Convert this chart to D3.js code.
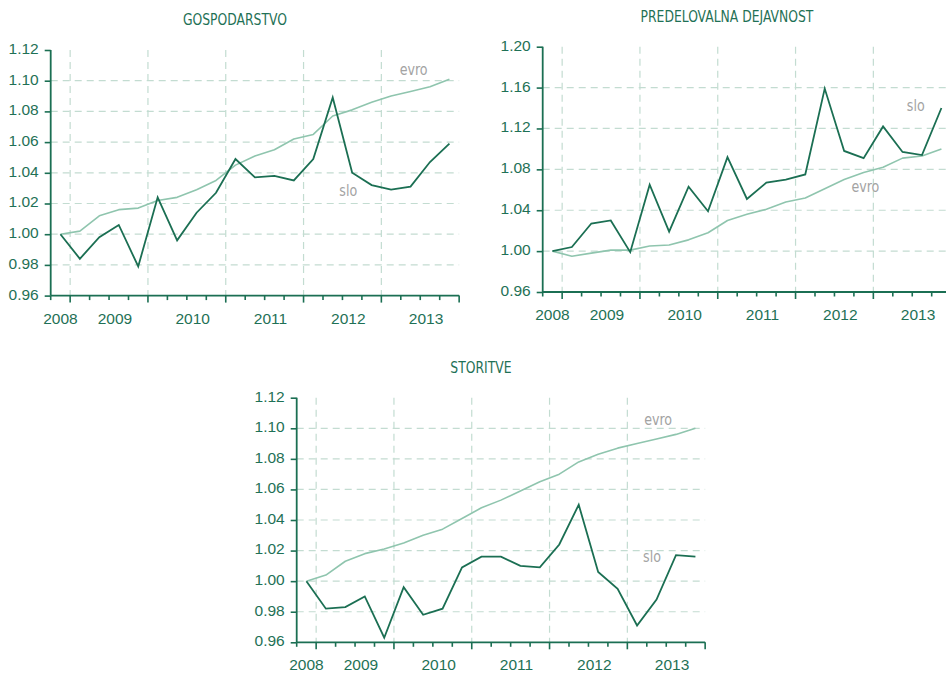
<!DOCTYPE html>
<html>
<head>
<meta charset="utf-8">
<script src="https://cdn.jsdelivr.net/npm/d3@7"></script>
<style>
  html, body { margin: 0; padding: 0; background: #ffffff; }
  svg { display: block; }
</style>
</head>
<body>
<svg id="chart" width="946" height="673"></svg>
<script>
// ---------- DATA ----------
const quarters = [
  "2008 Q4",
  "2009 Q1","2009 Q2","2009 Q3","2009 Q4",
  "2010 Q1","2010 Q2","2010 Q3","2010 Q4",
  "2011 Q1","2011 Q2","2011 Q3","2011 Q4",
  "2012 Q1","2012 Q2","2012 Q3","2012 Q4",
  "2013 Q1","2013 Q2","2013 Q3","2013 Q4"
];
const years = ["2008","2009","2010","2011","2012","2013"];

const gospodarstvoSlo  = [1.000,0.984,0.998,1.006,0.979,1.024,0.996,1.014,1.027,1.049,1.037,1.038,1.035,1.049,1.089,1.040,1.032,1.029,1.031,1.047,1.059];
const gospodarstvoEvro = [1.000,1.002,1.012,1.016,1.017,1.022,1.024,1.029,1.035,1.045,1.051,1.055,1.062,1.065,1.077,1.081,1.086,1.090,1.093,1.096,1.101];

const predelovalnaSlo  = [1.000,1.004,1.027,1.030,0.999,1.065,1.019,1.063,1.039,1.092,1.051,1.067,1.070,1.075,1.159,1.098,1.091,1.122,1.097,1.094,1.140];
const predelovalnaEvro = [1.000,0.995,0.998,1.001,1.001,1.005,1.006,1.011,1.018,1.030,1.036,1.041,1.048,1.052,1.061,1.070,1.077,1.082,1.091,1.093,1.100];

const storitveSlo  = [1.000,0.982,0.983,0.990,0.963,0.996,0.978,0.982,1.009,1.016,1.016,1.010,1.009,1.024,1.050,1.006,0.995,0.971,0.988,1.017,1.016];
const storitveEvro = [1.000,1.004,1.013,1.018,1.021,1.025,1.030,1.034,1.041,1.048,1.053,1.059,1.065,1.070,1.078,1.083,1.087,1.090,1.093,1.096,1.100];

const ticksSmall = [0.96,0.98,1.00,1.02,1.04,1.06,1.08,1.10,1.12];
const ticksLarge = [0.96,1.00,1.04,1.08,1.12,1.16,1.20];

// ---------- STYLE ----------
const C_DARK = "#1b6f53";
const C_TEXT = "#1f7156";
const C_EVRO = "#8fc5ae";
const C_GRID = "#c3dcd1";
const C_LABEL = "#a3a3a3";
const NUM_FONT = "'Liberation Sans', Arial, sans-serif";
const COND_FONT = "'Liberation Sans Narrow', 'DejaVu Sans Condensed', sans-serif";

const svg = d3.select("#chart");

const bandW = 19.45;
const plotW = quarters.length * bandW;

const panels = [
  { title: "GOSPODARSTVO", left: 50.7, top: 50, height: 245.6,
    slo: gospodarstvoSlo, evro: gospodarstvoEvro, ticks: ticksSmall,
    fmt: d3.format(".2f"),
    evroLab: { i: 18.16, v: 1.1034 }, sloLab: { i: 14.8, v: 1.0252 } },
  { title: "PREDELOVALNA DEJAVNOST", left: 542.7, top: 46.7, height: 245.3,
    slo: predelovalnaSlo, evro: predelovalnaEvro, ticks: ticksLarge,
    fmt: d3.format(".2f"),
    evroLab: { i: 16.09, v: 1.0577 }, sloLab: { i: 18.68, v: 1.137 } },
  { title: "STORITVE", left: 296.7, top: 397.7, height: 244.6,
    slo: storitveSlo, evro: storitveEvro, ticks: ticksSmall,
    fmt: d3.format(".2f"),
    evroLab: { i: 18.08, v: 1.1022 }, sloLab: { i: 17.77, v: 1.0128 } }
];

panels.forEach(p => {
  const g = svg.append("g").attr("transform", `translate(${p.left},${p.top})`);
  const x = d3.scaleBand().domain(quarters).range([0, plotW]).paddingInner(0).paddingOuter(0);
  const bw = x.bandwidth();
  const xc = d => x(d) + bw / 2;
  const xi = i => i * bw + bw / 2; // position for a fractional category index
  const y = d3.scaleLinear().domain([p.ticks[0], p.ticks[p.ticks.length - 1]]).range([p.height, 0]);

  // title (condensed look)
  svg.append("text")
    .attr("transform", `translate(${p.left + plotW / 2 - 20},${p.top - 25}) scale(0.86,1)`)
    .attr("text-anchor", "middle")
    .attr("font-family", COND_FONT)
    .attr("font-size", 16)
    .attr("fill", C_TEXT)
    .text(p.title);

  // horizontal grid (skip bottom and top)
  g.append("g").selectAll("line")
    .data(p.ticks.slice(1, -1))
    .join("line")
    .attr("x1", 0).attr("x2", plotW)
    .attr("y1", d => y(d)).attr("y2", d => y(d))
    .attr("stroke", C_GRID).attr("stroke-width", 1.2)
    .attr("stroke-dasharray", "7,5");

  // year boundaries (first quarter of each year from 2009)
  const boundaries = quarters.map((q, i) => ({ q, i })).filter(d => d.q.endsWith("Q1"));
  g.append("g").selectAll("line")
    .data(boundaries)
    .join("line")
    .attr("x1", d => x(d.q)).attr("x2", d => x(d.q))
    .attr("y1", 0).attr("y2", p.height)
    .attr("stroke", C_GRID).attr("stroke-width", 1.2)
    .attr("stroke-dasharray", "7,5");

  // lines
  const line = d3.line().x((d, i) => xc(quarters[i])).y(d => y(d));
  g.append("path").datum(p.evro)
    .attr("d", line).attr("fill", "none")
    .attr("stroke", C_EVRO).attr("stroke-width", 1.6)
    .attr("stroke-linejoin", "round");
  g.append("path").datum(p.slo)
    .attr("d", line).attr("fill", "none")
    .attr("stroke", C_DARK).attr("stroke-width", 1.8)
    .attr("stroke-linejoin", "miter");

  // y axis
  const yAxis = d3.axisLeft(y).tickValues(p.ticks).tickFormat(p.fmt).tickSize(6).tickPadding(6);
  const ya = g.append("g").call(yAxis);
  ya.select(".domain").attr("stroke", C_DARK).attr("stroke-width", 1.8).attr("d", `M0,0V${p.height}`);
  ya.selectAll(".tick line").attr("stroke", C_DARK).attr("stroke-width", 1.6);
  ya.selectAll(".tick text")
    .attr("font-family", NUM_FONT).attr("font-size", 15.5)
    .attr("fill", C_TEXT).attr("dy", "0.22em");

  // x axis line
  g.append("line")
    .attr("x1", 0).attr("x2", plotW)
    .attr("y1", p.height).attr("y2", p.height)
    .attr("stroke", C_DARK).attr("stroke-width", 1.8);

  // x ticks at each band boundary
  const edges = quarters.map(q => x(q)).concat([plotW]);
  g.append("g").selectAll("line")
    .data(edges)
    .join("line")
    .attr("x1", d => d).attr("x2", d => d)
    .attr("y1", p.height)
    .attr("y2", (d, i) => {
      const major = (i < quarters.length && quarters[i].endsWith("Q1")) || i === quarters.length;
      return p.height + (major ? 7 : 4.5);
    })
    .attr("stroke", C_DARK).attr("stroke-width", 1.6);

  // year labels
  g.append("g").selectAll("text")
    .data(years)
    .join("text")
    .attr("x", (d, i) => {
      if (i === 0) return xc(quarters[0]);
      const first = quarters.indexOf(d + " Q1");
      return x(quarters[first]) + 2.3 * bw;
    })
    .attr("y", p.height + 28)
    .attr("text-anchor", "middle")
    .attr("font-family", NUM_FONT).attr("font-size", 15.5)
    .attr("fill", C_TEXT)
    .text(d => d);

  // series labels
  const seriesLabel = (pos, txt) => g.append("text")
    .attr("transform", `translate(${xi(pos.i)},${y(pos.v)}) scale(0.88,1)`)
    .attr("text-anchor", "middle")
    .attr("font-family", COND_FONT).attr("font-size", 16)
    .attr("fill", C_LABEL).text(txt);
  seriesLabel(p.evroLab, "evro");
  seriesLabel(p.sloLab, "slo");
});
</script>
</body>
</html>
